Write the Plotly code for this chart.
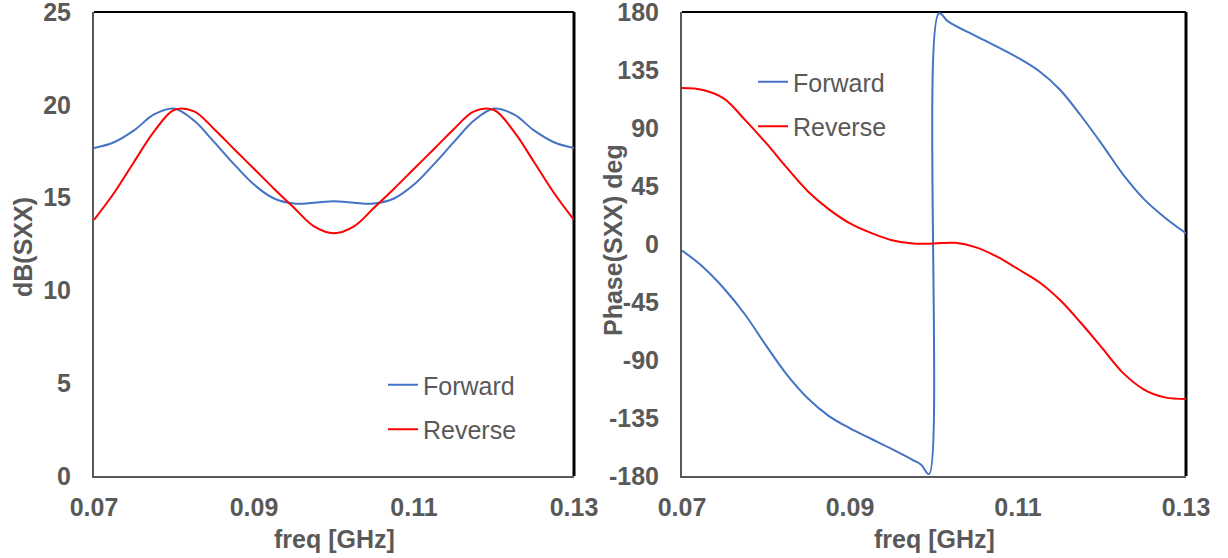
import plotly.graph_objects as go

# ---------------- data ----------------
freq_db = [0.0700, 0.0725, 0.0750, 0.0775, 0.0800, 0.0825, 0.0850, 0.0875, 0.0900, 0.0925,
           0.0950, 0.0975, 0.1000, 0.1025, 0.1050, 0.1075, 0.1100, 0.1125, 0.1150, 0.1175,
           0.1200, 0.1225, 0.1250, 0.1275, 0.1300]
fwd_db = [17.67, 17.98, 18.62, 19.48, 19.80, 19.15, 18.00, 16.80, 15.70, 14.95,
          14.68, 14.72, 14.80, 14.72, 14.68, 14.95, 15.70, 16.80, 18.00, 19.15,
          19.80, 19.48, 18.62, 17.98, 17.67]
rev_db = [13.80, 15.25, 16.92, 18.55, 19.72, 19.65, 18.70, 17.62, 16.55, 15.48,
          14.45, 13.45, 13.08, 13.45, 14.45, 15.48, 16.55, 17.62, 18.70, 19.65,
          19.72, 18.55, 16.92, 15.25, 13.80]

freq_fwd_ph = [0.0700, 0.0725, 0.0750, 0.0775, 0.0800, 0.0825, 0.0850, 0.0875, 0.0900, 0.0925,
               0.0950, 0.0975, 0.0985, 0.0994, 0.1006, 0.1017, 0.1050, 0.1075, 0.1100, 0.1125,
               0.1150, 0.1175, 0.1200, 0.1225, 0.1250, 0.1275, 0.1300]
fwd_ph = [-5.0, -17.8, -34.5, -54.7, -78.7, -101.5, -119.8, -133.5, -143.0, -151.1,
          -159.1, -167.6, -171.5, -178.5, 179.0, 172.5, 161.3, 153.1, 144.5, 134.2,
          119.7, 99.5, 77.3, 54.0, 34.8, 20.4, 8.3]

freq_rev_ph = [0.0700, 0.0725, 0.0750, 0.0775, 0.0800, 0.0825, 0.0850, 0.0875, 0.0900, 0.0925,
               0.0950, 0.0975, 0.1000, 0.1025, 0.1050, 0.1075, 0.1100, 0.1125, 0.1150, 0.1175,
               0.1200, 0.1225, 0.1250, 0.1275, 0.1300]
rev_ph = [121.0, 119.5, 112.8, 96.3, 78.4, 59.0, 40.8, 26.9, 16.0, 8.6,
          2.9, 0.3, 0.4, 0.9, -2.6, -9.8, -19.4, -29.5, -43.5, -61.3,
          -80.6, -100.0, -112.9, -119.0, -120.2]

x_ticks = [0.07, 0.09, 0.11, 0.13]
x_tick_text = ["0.07", "0.09", "0.11", "0.13"]
db_ticks = [0, 5, 10, 15, 20, 25]
db_tick_text = ["0", "5", "10", "15", "20", "25"]
ph_ticks = [-180, -135, -90, -45, 0, 45, 90, 135, 180]
ph_tick_text = ["-180", "-135", "-90", "-45", "0", "45", "90", "135", "180"]

BLUE = "#4472C4"
RED = "#FF0000"
GRAY = "#595959"
FONT = "Liberation Sans"
FS = 25

W, H = 1228, 558

fig = go.Figure()

fig.add_trace(go.Scatter(x=freq_db, y=fwd_db, name="Forward", mode="lines",
                         line=dict(color=BLUE, width=2, shape="spline", smoothing=1),
                         xaxis="x", yaxis="y", legend="legend", legendgroup="a"))
fig.add_trace(go.Scatter(x=freq_db, y=rev_db, name="Reverse", mode="lines",
                         line=dict(color=RED, width=2, shape="spline", smoothing=1),
                         xaxis="x", yaxis="y", legend="legend", legendgroup="b"))
fig.add_trace(go.Scatter(x=freq_fwd_ph, y=fwd_ph, name="Forward", mode="lines",
                         line=dict(color=BLUE, width=2, shape="spline", smoothing=1),
                         xaxis="x2", yaxis="y2", legend="legend2", legendgroup="c"))
fig.add_trace(go.Scatter(x=freq_rev_ph, y=rev_ph, name="Reverse", mode="lines",
                         line=dict(color=RED, width=2, shape="spline", smoothing=1),
                         xaxis="x2", yaxis="y2", legend="legend2", legendgroup="d"))

tickfont = dict(family=FONT, size=FS, color=GRAY, weight="bold")
ydom = [1 - 476 / H, 1 - 12 / H]
xdom1 = [94 / W, 574 / W]
xdom2 = [682 / W, 1186 / W]

common_x = dict(range=[0.07, 0.13], tickvals=x_ticks, ticktext=x_tick_text,
                showgrid=False, zeroline=False, showline=True, linecolor=GRAY, linewidth=2,
                ticks="outside", ticklen=8, tickcolor="rgba(0,0,0,0)",
                tickfont=tickfont, automargin=False, fixedrange=True,
                ticklabeloverflow="allow")
common_y = dict(showgrid=False, zeroline=False, showline=True, linecolor=GRAY, linewidth=2,
                ticks="outside", ticklen=16, tickcolor="rgba(0,0,0,0)",
                tickfont=tickfont, automargin=False, fixedrange=True,
                ticklabeloverflow="allow")

legend_font = dict(family=FONT, size=FS, color=GRAY)

fig.update_layout(
    width=W, height=H,
    margin=dict(l=0, r=0, t=0, b=0),
    paper_bgcolor="white", plot_bgcolor="white",
    template="none",
    xaxis=dict(domain=xdom1, anchor="y", **common_x),
    yaxis=dict(domain=ydom, anchor="x", range=[0, 25], tickvals=db_ticks,
               ticktext=db_tick_text, **common_y),
    xaxis2=dict(domain=xdom2, anchor="y2", **common_x),
    yaxis2=dict(domain=ydom, anchor="x2", range=[-180, 180], tickvals=ph_ticks,
                ticktext=ph_tick_text, **common_y),
    legend=dict(x=(389 - 6) / W, y=1 - 362 / H, xanchor="left", yanchor="top",
                font=legend_font, bgcolor="rgba(0,0,0,0)", itemwidth=30,
                tracegroupgap=9, traceorder="grouped"),
    legend2=dict(x=(759 - 6) / W, y=1 - 59 / H, xanchor="left", yanchor="top",
                 font=legend_font, bgcolor="rgba(0,0,0,0)", itemwidth=30,
                 tracegroupgap=9, traceorder="grouped"),
    showlegend=True,
)

# black top/right frame
for xr, yr in [("x domain", "y domain"), ("x2 domain", "y2 domain")]:
    fig.add_shape(type="line", xref=xr, yref=yr, x0=0, x1=1, y0=1, y1=1,
                  line=dict(color="black", width=2), layer="below")
    fig.add_shape(type="line", xref=xr, yref=yr, x0=1, x1=1, y0=0, y1=1,
                  line=dict(color="black", width=3), layer="below")

title_font = dict(family=FONT, size=FS, color=GRAY, weight="bold")
fig.add_annotation(text="dB(SXX)", xref="paper", yref="paper", x=23 / W, y=1 - 247 / H,
                   textangle=-90, showarrow=False, font=title_font,
                   xanchor="center", yanchor="middle")
fig.add_annotation(text="Phase(SXX) deg", xref="paper", yref="paper", x=613 / W, y=1 - 240 / H,
                   textangle=-90, showarrow=False, font=title_font,
                   xanchor="center", yanchor="middle")
fig.add_annotation(text="freq [GHz]", xref="paper", yref="paper", x=334 / W, y=1 - 539 / H,
                   showarrow=False, font=title_font, xanchor="center", yanchor="middle")
fig.add_annotation(text="freq [GHz]", xref="paper", yref="paper", x=934 / W, y=1 - 539 / H,
                   showarrow=False, font=title_font, xanchor="center", yanchor="middle")

fig.write_html("out.html")
